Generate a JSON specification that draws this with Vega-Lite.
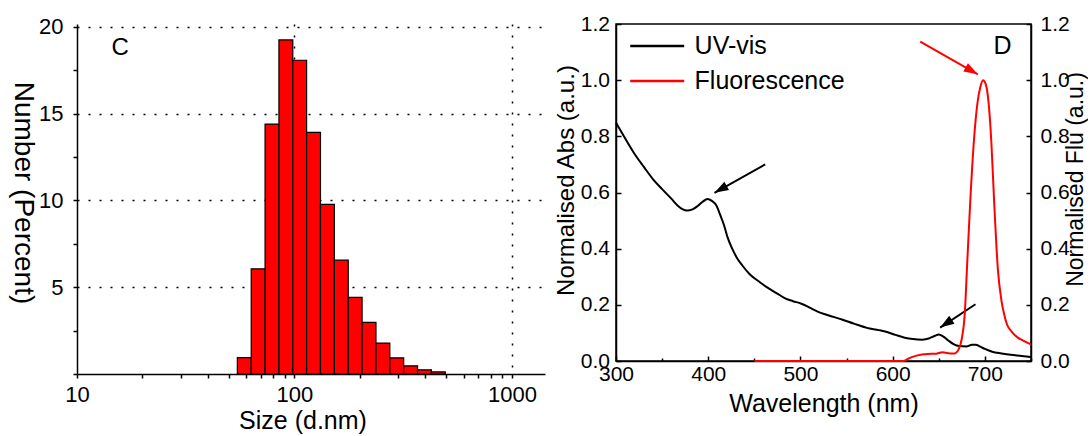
{
  "$schema": "https://vega.github.io/schema/vega-lite/v6.json",
  "padding": {"left": 8, "top": 12, "right": 0, "bottom": 0},
  "bounds": "flush",
  "spacing": 71,
  "config": {
    "font": "Liberation Sans",
    "view": {"stroke": null},
    "axis": {"domainColor": "#000", "domainWidth": 1.5, "tickColor": "#000", "tickWidth": 1.5, "labelColor": "#000", "titleColor": "#000", "titleFontWeight": "normal", "grid": false, "labelOverlap": false, "labelFlush": false}
  },
  "datasets": {
    "dls": [
      {"size_lo": 54.61, "size_hi": 63.25, "pct": 0.94},
      {"size_lo": 63.25, "size_hi": 73.24, "pct": 6.06},
      {"size_lo": 73.24, "size_hi": 84.82, "pct": 14.4},
      {"size_lo": 84.82, "size_hi": 98.23, "pct": 19.25},
      {"size_lo": 98.23, "size_hi": 113.7, "pct": 18.08},
      {"size_lo": 113.7, "size_hi": 131.7, "pct": 13.92},
      {"size_lo": 131.7, "size_hi": 152.6, "pct": 9.77},
      {"size_lo": 152.6, "size_hi": 176.7, "pct": 6.56},
      {"size_lo": 176.7, "size_hi": 204.6, "pct": 4.42},
      {"size_lo": 204.6, "size_hi": 237.0, "pct": 2.97},
      {"size_lo": 237.0, "size_hi": 274.4, "pct": 1.78},
      {"size_lo": 274.4, "size_hi": 317.8, "pct": 0.93},
      {"size_lo": 317.8, "size_hi": 368.1, "pct": 0.47},
      {"size_lo": 368.1, "size_hi": 426.3, "pct": 0.24},
      {"size_lo": 426.3, "size_hi": 493.6, "pct": 0.12}
    ],
    "panelC": [{"label": "C", "size": 15.8, "pct": 18.8}],
    "panelD": [{"label": "D", "wl": 719, "v": 1.12}],
    "arrows": [
      {"id": "a1", "x": 461.8, "y": 0.700, "x2": 406.8, "y2": 0.599},
      {"id": "a2", "x": 689.8, "y": 0.202, "x2": 651.5, "y2": 0.119},
      {"id": "r1", "x": 629.9, "y": 1.137, "x2": 692.3, "y2": 1.021}
    ],
    "spectra": [
      {"s": "UV-vis", "wl": 300, "v": 0.848},
      {"s": "UV-vis", "wl": 310, "v": 0.792},
      {"s": "UV-vis", "wl": 320, "v": 0.738},
      {"s": "UV-vis", "wl": 330, "v": 0.692},
      {"s": "UV-vis", "wl": 340, "v": 0.648},
      {"s": "UV-vis", "wl": 350, "v": 0.612},
      {"s": "UV-vis", "wl": 360, "v": 0.578},
      {"s": "UV-vis", "wl": 367, "v": 0.553},
      {"s": "UV-vis", "wl": 372, "v": 0.541},
      {"s": "UV-vis", "wl": 377, "v": 0.536},
      {"s": "UV-vis", "wl": 383, "v": 0.540},
      {"s": "UV-vis", "wl": 389, "v": 0.553},
      {"s": "UV-vis", "wl": 394, "v": 0.567},
      {"s": "UV-vis", "wl": 399, "v": 0.577},
      {"s": "UV-vis", "wl": 404, "v": 0.570},
      {"s": "UV-vis", "wl": 409, "v": 0.553},
      {"s": "UV-vis", "wl": 413, "v": 0.520},
      {"s": "UV-vis", "wl": 417, "v": 0.485},
      {"s": "UV-vis", "wl": 421, "v": 0.440},
      {"s": "UV-vis", "wl": 426, "v": 0.400},
      {"s": "UV-vis", "wl": 431, "v": 0.368},
      {"s": "UV-vis", "wl": 437, "v": 0.340},
      {"s": "UV-vis", "wl": 445, "v": 0.309},
      {"s": "UV-vis", "wl": 455, "v": 0.283},
      {"s": "UV-vis", "wl": 463, "v": 0.264},
      {"s": "UV-vis", "wl": 474, "v": 0.242},
      {"s": "UV-vis", "wl": 484, "v": 0.222},
      {"s": "UV-vis", "wl": 492, "v": 0.213},
      {"s": "UV-vis", "wl": 501, "v": 0.204},
      {"s": "UV-vis", "wl": 510, "v": 0.190},
      {"s": "UV-vis", "wl": 518, "v": 0.177},
      {"s": "UV-vis", "wl": 530, "v": 0.163},
      {"s": "UV-vis", "wl": 545, "v": 0.148},
      {"s": "UV-vis", "wl": 558, "v": 0.133},
      {"s": "UV-vis", "wl": 572, "v": 0.118},
      {"s": "UV-vis", "wl": 585, "v": 0.110},
      {"s": "UV-vis", "wl": 594, "v": 0.103},
      {"s": "UV-vis", "wl": 603, "v": 0.093},
      {"s": "UV-vis", "wl": 613, "v": 0.083},
      {"s": "UV-vis", "wl": 622, "v": 0.078},
      {"s": "UV-vis", "wl": 632, "v": 0.076},
      {"s": "UV-vis", "wl": 640, "v": 0.081},
      {"s": "UV-vis", "wl": 646, "v": 0.090},
      {"s": "UV-vis", "wl": 650, "v": 0.094},
      {"s": "UV-vis", "wl": 655, "v": 0.087},
      {"s": "UV-vis", "wl": 660, "v": 0.074},
      {"s": "UV-vis", "wl": 666, "v": 0.060},
      {"s": "UV-vis", "wl": 672, "v": 0.053},
      {"s": "UV-vis", "wl": 680, "v": 0.052},
      {"s": "UV-vis", "wl": 686, "v": 0.058},
      {"s": "UV-vis", "wl": 690, "v": 0.058},
      {"s": "UV-vis", "wl": 695, "v": 0.051},
      {"s": "UV-vis", "wl": 700, "v": 0.043},
      {"s": "UV-vis", "wl": 708, "v": 0.033},
      {"s": "UV-vis", "wl": 718, "v": 0.027},
      {"s": "UV-vis", "wl": 728, "v": 0.022},
      {"s": "UV-vis", "wl": 740, "v": 0.018},
      {"s": "UV-vis", "wl": 750, "v": 0.014},
      {"s": "Fluorescence", "wl": 450, "v": 0},
      {"s": "Fluorescence", "wl": 612, "v": 0},
      {"s": "Fluorescence", "wl": 618, "v": 0.010},
      {"s": "Fluorescence", "wl": 627, "v": 0.020},
      {"s": "Fluorescence", "wl": 638, "v": 0.025},
      {"s": "Fluorescence", "wl": 647, "v": 0.026},
      {"s": "Fluorescence", "wl": 654, "v": 0.031},
      {"s": "Fluorescence", "wl": 660, "v": 0.028},
      {"s": "Fluorescence", "wl": 667, "v": 0.027},
      {"s": "Fluorescence", "wl": 672, "v": 0.045},
      {"s": "Fluorescence", "wl": 675, "v": 0.080},
      {"s": "Fluorescence", "wl": 678, "v": 0.160},
      {"s": "Fluorescence", "wl": 681, "v": 0.360},
      {"s": "Fluorescence", "wl": 684, "v": 0.560},
      {"s": "Fluorescence", "wl": 688, "v": 0.780},
      {"s": "Fluorescence", "wl": 692, "v": 0.920},
      {"s": "Fluorescence", "wl": 695, "v": 0.975},
      {"s": "Fluorescence", "wl": 698, "v": 1.0},
      {"s": "Fluorescence", "wl": 701, "v": 0.985},
      {"s": "Fluorescence", "wl": 704, "v": 0.920},
      {"s": "Fluorescence", "wl": 707, "v": 0.780},
      {"s": "Fluorescence", "wl": 710, "v": 0.570},
      {"s": "Fluorescence", "wl": 714, "v": 0.330},
      {"s": "Fluorescence", "wl": 718, "v": 0.214},
      {"s": "Fluorescence", "wl": 721, "v": 0.165},
      {"s": "Fluorescence", "wl": 724, "v": 0.130},
      {"s": "Fluorescence", "wl": 729, "v": 0.105},
      {"s": "Fluorescence", "wl": 735, "v": 0.085},
      {"s": "Fluorescence", "wl": 742, "v": 0.072},
      {"s": "Fluorescence", "wl": 750, "v": 0.059}
    ]
  },
  "hconcat": [
    {
      "width": 468,
      "height": 350,
      "layer": [
        {
          "data": {"name": "dls"},
          "mark": {"type": "rect", "fill": "#ff0000", "stroke": "#000", "strokeWidth": 1.2},
          "encoding": {
            "x": {"field": "size_lo", "type": "quantitative",
              "scale": {"type": "log", "domain": [10, 1419], "nice": false},
              "axis": {"title": "Size (d.nm)", "values": [10, 20, 30, 40, 50, 60, 70, 80, 90, 100, 200, 300, 400, 500, 600, 700, 800, 900, 1000],
                "format": "d", "labelExpr": "datum.value === 10 || datum.value === 100 || datum.value === 1000 ? datum.label : ''",
                "tickSize": 4, "labelPadding": 6, "labelFontSize": 22, "titleFontSize": 25,
                "grid": true, "gridOpacity": {"condition": {"test": "datum.value === 100 || datum.value === 1000", "value": 1}, "value": 0},
                "gridDash": [2, 9], "gridColor": "#000", "gridWidth": 1.5,
                "titleX": 225.5, "titleY": 54.7, "titleBaseline": "alphabetic", "titleAlign": "center"}},
            "x2": {"field": "size_hi"},
            "y": {"field": "pct", "type": "quantitative",
              "scale": {"domain": [0, 20.17], "nice": false},
              "axis": {"title": "Number (Percent)", "values": [0, 2.5, 5, 7.5, 10, 12.5, 15, 17.5, 20],
                "labelExpr": "datum.value % 5 === 0 && datum.value > 0 ? datum.label : ''",
                "tickSize": 4, "labelPadding": 10, "labelFontSize": 22, "titleFontSize": 28,
                "grid": true, "gridOpacity": {"condition": {"test": "datum.value % 5 === 0 && datum.value > 0", "value": 1}, "value": 0},
                "gridDash": [2, 9], "gridColor": "#000", "gridWidth": 1.5,
                "titleAngle": 90, "titleX": -54.5, "titleY": 168.5, "titleBaseline": "middle", "titleAlign": "center"}},
            "y2": {"datum": 0}
          }
        },
        {
          "data": {"name": "panelC"},
          "mark": {"type": "text", "fontSize": 24, "align": "center", "baseline": "middle", "color": "#000"},
          "encoding": {
            "x": {"field": "size", "type": "quantitative", "scale": {"type": "log", "domain": [10, 1419], "nice": false}},
            "y": {"field": "pct", "type": "quantitative", "scale": {"domain": [0, 20.17], "nice": false}},
            "text": {"field": "label"}
          }
        }
      ]
    },
    {
      "width": 415,
      "height": 337,
      "view": {"stroke": "#000", "strokeWidth": 1.5},
      "resolve": {"scale": {"y": "independent"}},
      "layer": [
        {
          "layer": [
            {
              "data": {"name": "spectra"},
              "transform": [{"filter": "datum.s === 'UV-vis'"}],
              "mark": {"type": "line", "strokeWidth": 2, "interpolate": "monotone"},
              "encoding": {
                "x": {"field": "wl", "type": "quantitative", "scale": {"domain": [300, 750], "nice": false},
                  "axis": {"title": "Wavelength (nm)", "values": [300, 350, 400, 450, 500, 550, 600, 650, 700, 750],
                    "labelExpr": "datum.value % 100 === 0 ? datum.label : ''",
                    "tickSize": {"condition": {"test": "datum.value % 100 === 0", "value": -5}, "value": -3},
                    "labelPadding": 7, "labelFontSize": 21, "titleFontSize": 25,
                    "titleX": 207.5, "titleY": 50, "titleBaseline": "alphabetic", "titleAlign": "center"}},
                "y": {"field": "v", "type": "quantitative", "scale": {"domain": [0, 1.2], "nice": false},
                  "axis": {"title": "Normalised Abs (a.u.)", "values": [0, 0.2, 0.4, 0.6, 0.8, 1.0, 1.2], "format": ".1f",
                    "tickSize": -5, "labelPadding": 11.5, "labelFontSize": 21, "titleFontSize": 24,
                    "titleAngle": 270, "titleX": -50, "titleY": 156, "titleBaseline": "middle", "titleAlign": "center"}},
                "color": {"field": "s", "type": "nominal",
                  "scale": {"domain": ["UV-vis", "Fluorescence"], "range": ["#000000", "#ff0000"]},
                  "legend": {"orient": "none", "legendX": 567.7, "legendY": 9.5, "title": null, "padding": 0,
                    "symbolType": "M-2.5,0H2.5", "symbolSize": 466, "symbolStrokeWidth": 2.5,
                    "labelFontSize": 25, "labelOffset": 24.9, "rowPadding": 9, "labelColor": "#000"}}
              }
            },
            {
              "data": {"name": "arrows"},
              "transform": [{"filter": "datum.id !== 'r1'"}],
              "mark": {"type": "rule", "color": "#000", "strokeWidth": 2},
              "encoding": {
                "x": {"field": "x", "type": "quantitative", "scale": {"domain": [300, 750], "nice": false}},
                "y": {"field": "y", "type": "quantitative", "scale": {"domain": [0, 1.2], "nice": false}},
                "x2": {"field": "x2"},
                "y2": {"field": "y2"}
              }
            },
            {
              "data": {"name": "arrows"},
              "transform": [{"filter": "datum.id === 'r1'"}],
              "mark": {"type": "rule", "color": "#ff0000", "strokeWidth": 2},
              "encoding": {
                "x": {"field": "x", "type": "quantitative", "scale": {"domain": [300, 750], "nice": false}},
                "y": {"field": "y", "type": "quantitative", "scale": {"domain": [0, 1.2], "nice": false}},
                "x2": {"field": "x2"},
                "y2": {"field": "y2"}
              }
            },
            {
              "data": {"name": "arrows"},
              "transform": [{"filter": "datum.id === 'a1'"}],
              "mark": {"type": "point", "shape": "M0,0L0.75,2.2L-0.75,2.2Z", "size": 162, "filled": true, "color": "#000", "opacity": 1, "angle": 240.7},
              "encoding": {
                "x": {"field": "x2", "type": "quantitative", "scale": {"domain": [300, 750], "nice": false}},
                "y": {"field": "y2", "type": "quantitative", "scale": {"domain": [0, 1.2], "nice": false}}
              }
            },
            {
              "data": {"name": "arrows"},
              "transform": [{"filter": "datum.id === 'a2'"}],
              "mark": {"type": "point", "shape": "M0,0L0.75,2.2L-0.75,2.2Z", "size": 162, "filled": true, "color": "#000", "opacity": 1, "angle": 236.5},
              "encoding": {
                "x": {"field": "x2", "type": "quantitative", "scale": {"domain": [300, 750], "nice": false}},
                "y": {"field": "y2", "type": "quantitative", "scale": {"domain": [0, 1.2], "nice": false}}
              }
            },
            {
              "data": {"name": "arrows"},
              "transform": [{"filter": "datum.id === 'r1'"}],
              "mark": {"type": "point", "shape": "M0,0L0.75,2.2L-0.75,2.2Z", "size": 162, "filled": true, "color": "#ff0000", "opacity": 1, "angle": 119.5},
              "encoding": {
                "x": {"field": "x2", "type": "quantitative", "scale": {"domain": [300, 750], "nice": false}},
                "y": {"field": "y2", "type": "quantitative", "scale": {"domain": [0, 1.2], "nice": false}}
              }
            },
            {
              "data": {"name": "panelD"},
              "mark": {"type": "text", "fontSize": 25, "align": "center", "baseline": "middle", "color": "#000"},
              "encoding": {
                "x": {"field": "wl", "type": "quantitative", "scale": {"domain": [300, 750], "nice": false}},
                "y": {"field": "v", "type": "quantitative", "scale": {"domain": [0, 1.2], "nice": false}},
                "text": {"field": "label"}
              }
            }
          ]
        },
        {
          "data": {"name": "spectra"},
          "transform": [{"filter": "datum.s === 'Fluorescence'"}],
          "mark": {"type": "line", "strokeWidth": 2, "interpolate": "monotone"},
          "encoding": {
            "x": {"field": "wl", "type": "quantitative", "scale": {"domain": [300, 750], "nice": false}},
            "y": {"field": "v", "type": "quantitative", "scale": {"domain": [0, 1.2], "nice": false},
              "axis": {"orient": "right", "title": "Normalised Flu (a.u.)", "values": [0, 0.2, 0.4, 0.6, 0.8, 1.0, 1.2], "format": ".1f",
                "tickSize": -5, "labelPadding": 14, "labelFontSize": 21, "titleFontSize": 23,
                "titleAngle": 270, "titleX": 44, "titleY": 155, "titleBaseline": "middle", "titleAlign": "center"}},
            "color": {"field": "s", "type": "nominal",
              "scale": {"domain": ["UV-vis", "Fluorescence"], "range": ["#000000", "#ff0000"]}}
          }
        }
      ]
    }
  ]
}
